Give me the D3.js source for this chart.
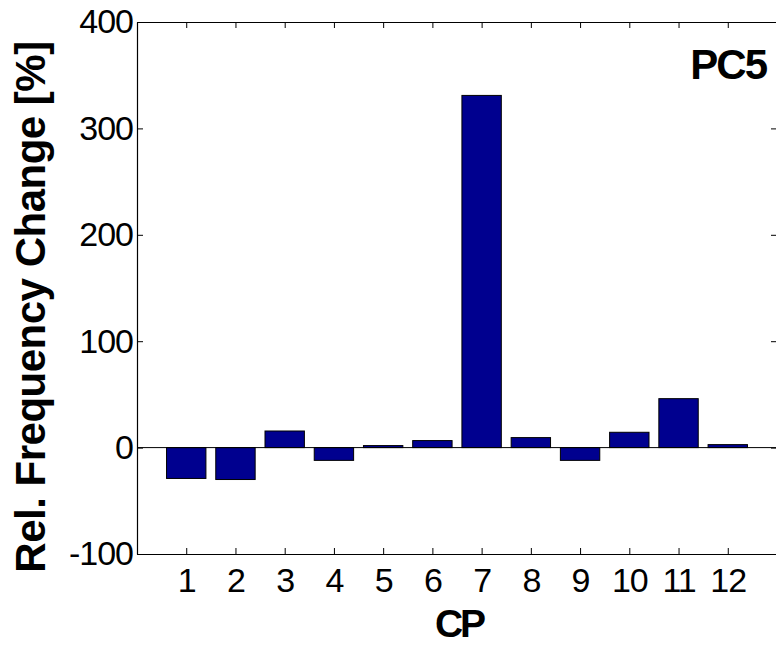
<!DOCTYPE html>
<html>
<head>
<meta charset="utf-8">
<script src="https://cdn.jsdelivr.net/npm/d3@7"></script>
<style>
    body { margin: 0; background: #fff; }
    text { font-family: "Liberation Sans", Arial, sans-serif; fill: #000; }
</style>
</head>
<body>
<div id="chart"></div>
<script>

// DATA

var cpLabels    = [1, 2, 3, 4, 5, 6, 7, 8, 9, 10, 11, 12];
var freqChange  = [-29, -30, 15.6, -12, 1.9, 6.6, 331, 9.4, -12, 14.4, 46, 2.8];
var yTicks      = [-100, 0, 100, 200, 300, 400];


// SETUP

var width  = 776;
var height = 645;

var plot = {
    left: 137,
    right: 777,
    top: 22,
    bottom: 554
};

var svg = d3.select( '#chart' ).append( 'svg' )
            .attr( 'width', width )
            .attr( 'height', height );

var xScale = d3.scaleLinear()
                .domain( [0, 13] )
                .range( [plot.left, plot.right] );
var yScale = d3.scaleLinear()
                .domain( [-100, 400] )
                .range( [plot.bottom, plot.top] );

var barWidth = ( xScale( 1 ) - xScale( 0 ) ) * 0.8;
var tickLen = 6;


// BARS

svg.append( 'g' )
    .selectAll( 'rect' )
    .data( freqChange )
    .enter().append( 'rect' )
        .attr( 'x', function( d, i ) { return xScale( cpLabels[i] ) - barWidth / 2; } )
        .attr( 'y', function( d ) { return yScale( Math.max( d, 0 ) ); } )
        .attr( 'width', barWidth )
        .attr( 'height', function( d ) { return Math.abs( yScale( d ) - yScale( 0 ) ); } )
        .attr( 'fill', '#00008f' )
        .attr( 'stroke', '#000' )
        .attr( 'stroke-width', 1 );

// Baseline at zero
svg.append( 'line' )
    .attr( 'x1', plot.left )
    .attr( 'x2', plot.right )
    .attr( 'y1', yScale( 0 ) )
    .attr( 'y2', yScale( 0 ) )
    .attr( 'stroke', '#000' )
    .attr( 'stroke-width', 1 );


// AXES

// Plain hyphen for negatives, like the original
var plainFormat = function( d ) { return String( d ); };

// Inward ticks on all four sides, labels only left and bottom
var xAxisBottom = d3.axisBottom( xScale ).tickValues( cpLabels ).tickSizeInner( -tickLen ).tickSizeOuter( 0 ).tickPadding( 14 ).tickFormat( plainFormat );
var xAxisTop    = d3.axisTop( xScale ).tickValues( cpLabels ).tickSizeInner( -tickLen ).tickSizeOuter( 0 ).tickFormat( '' );
var yAxisLeft   = d3.axisLeft( yScale ).tickValues( yTicks ).tickSizeInner( -tickLen ).tickSizeOuter( 0 ).tickPadding( 4 ).tickFormat( plainFormat );
var yAxisRight  = d3.axisRight( yScale ).tickValues( yTicks ).tickSizeInner( -tickLen ).tickSizeOuter( 0 ).tickFormat( '' );

var axes = [
    { axis: xAxisBottom, tx: 0, ty: plot.bottom },
    { axis: xAxisTop,    tx: 0, ty: plot.top },
    { axis: yAxisLeft,   tx: plot.left, ty: 0 },
    { axis: yAxisRight,  tx: plot.right, ty: 0 }
];

axes.forEach( function( a ) {
    var g = svg.append( 'g' )
                .attr( 'transform', 'translate(' + a.tx + ',' + a.ty + ')' )
                .call( a.axis );
    g.select( '.domain' ).attr( 'stroke', '#000' ).attr( 'stroke-width', 1.2 );
    g.selectAll( '.tick line' ).attr( 'stroke', '#000' );
    g.selectAll( '.tick text' )
        .style( 'font-size', '34px' )
        .style( 'letter-spacing', '-1px' )
        .attr( 'fill', '#000' );
} );


// LABELS

svg.append( 'text' )
    .attr( 'x', ( plot.left + plot.right ) / 2 + 2 )
    .attr( 'y', 637 )
    .attr( 'text-anchor', 'middle' )
    .style( 'font-size', '39px' )
    .style( 'font-weight', 'bold' )
    .style( 'letter-spacing', '-3px' )
    .text( 'CP' );

svg.append( 'text' )
    .attr( 'transform', 'translate(45,307) rotate(-90)' )
    .attr( 'text-anchor', 'middle' )
    .style( 'font-size', '42px' )
    .style( 'font-weight', 'bold' )
    .style( 'letter-spacing', '-0.5px' )
    .text( 'Rel. Frequency Change [%]' );

svg.append( 'text' )
    .attr( 'x', 766 )
    .attr( 'y', 79 )
    .attr( 'text-anchor', 'end' )
    .style( 'font-size', '42px' )
    .style( 'font-weight', 'bold' )
    .style( 'letter-spacing', '-2px' )
    .text( 'PC5' );

</script>
</body>
</html>
